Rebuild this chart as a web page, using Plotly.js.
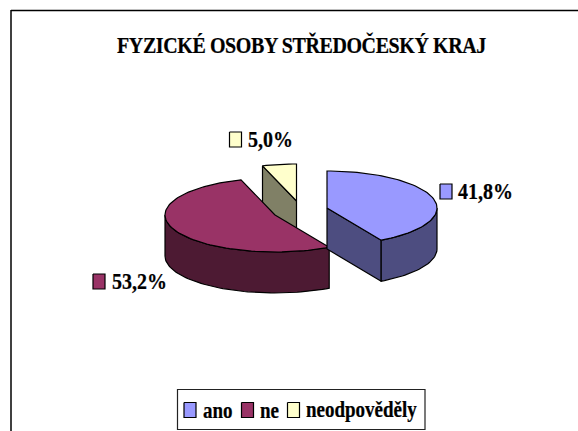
<!DOCTYPE html>
<html><head><meta charset="utf-8">
<script src="https://cdn.plot.ly/plotly-3.0.1.min.js"></script>
<style>html,body{margin:0;padding:0;background:#fff}#c{width:578px;height:431px}
.gtitle{letter-spacing:-0.4px;stroke:#000;stroke-width:.2px;transform-box:fill-box;transform-origin:center;transform:scaleY(1.15)}
.annotation-text{stroke:#000;stroke-width:.2px;transform-box:fill-box;transform-origin:center;transform:scaleY(1.18)}</style>
</head><body><div id="c"></div>
<script>
var chartTitle = 'FYZICKÉ OSOBY STŘEDOČESKÝ KRAJ';
var categories = ['ano', 'ne', 'neodpověděly'];
var values = [41.8, 53.2, 5.0];
var topColors = ['#9999FF', '#993366', '#FFFFCC'];
var sideColors = ['#4D4D80', '#4D1A33', '#808066'];
var centerX = [327, 275, 296.5];
var centerY = [208, 215, 201];
var labelKeyX = [446, 99, 235.5];
var labelKeyY = [191.5, 281.5, 139.5];
var labelTextX = [457, 111, 247];
var legendKeyX = [190, 247.5, 293.5];
var legendTextX = [202, 259, 305];
var drawOrder = [2, 1, 0];
var radiusX = 110, radiusY = 37, depth = 41;

function pt(i, deg, dz) {
  var a = deg * Math.PI / 180;
  return [centerX[i] + radiusX * Math.sin(a), centerY[i] - radiusY * Math.cos(a) + (dz || 0)];
}
function arc(i, a0, a1, dz) {
  var out = [], n = Math.max(2, Math.ceil(Math.abs(a1 - a0) / 2));
  for (var k = 0; k <= n; k++) out.push(pt(i, a0 + (a1 - a0) * k / n, dz));
  return out;
}
function poly(points, fill, name) {
  var pts = points.concat([points[0]]);
  return {type: 'scatter', mode: 'lines', name: name, showlegend: false, hoverinfo: 'skip',
    x: pts.map(function (p) { return p[0]; }), y: pts.map(function (p) { return p[1]; }),
    fill: 'toself', fillcolor: fill, line: {color: '#000', width: 1.2, shape: 'linear'}};
}
var total = values.reduce(function (a, b) { return a + b; }, 0);
var starts = [], acc = 0;
values.forEach(function (v) { starts.push(acc / total * 360); acc += v; });

var traces = [];
drawOrder.forEach(function (i) {
  var a0 = starts[i], a1 = a0 + values[i] / total * 360, c = [centerX[i], centerY[i]];
  var cBottom = [c[0], c[1] + depth];
  [[a0, a0 - 90], [a1, a1 + 90]].forEach(function (f) {
    if (-Math.cos(f[1] * Math.PI / 180) > 0.01) {
      traces.push(poly([c, pt(i, f[0]), pt(i, f[0], depth), cBottom], sideColors[i], categories[i]));
    }
  });
  var w0 = Math.max(a0, 90), w1 = Math.min(a1, 270);
  if (w1 > w0) {
    traces.push(poly(arc(i, w0, w1).concat(arc(i, w1, w0, depth)), sideColors[i], categories[i]));
  }
  traces.push(poly([c].concat(arc(i, a0, a1)), topColors[i], categories[i]));
});

function keyBox(x, y, i) {
  var hw = 6, hh = 7.5;
  traces.push(poly([[x - hw, y - hh], [x + hw, y - hh], [x + hw, y + hh], [x - hw, y + hh]], topColors[i], categories[i]));
}
categories.forEach(function (c, i) {
  keyBox(labelKeyX[i], labelKeyY[i], i);
  keyBox(legendKeyX[i], 410, i);
});

var annotations = [];
function note(text, x, y, size) {
  annotations.push({text: '<b>' + text + '</b>', x: x, y: y, xref: 'x', yref: 'y', xanchor: 'left',
    yanchor: 'middle', showarrow: false, borderpad: 0, font: {family: 'Liberation Serif', size: size, color: '#000'}});
}
values.forEach(function (v, i) {
  note(v.toFixed(1).replace('.', ',') + '%', labelTextX[i], labelKeyY[i] + 0.5, 20);
  note(categories[i], legendTextX[i], 410, 19);
});

var layout = {
  width: 578, height: 431, margin: {l: 0, r: 0, t: 0, b: 0},
  paper_bgcolor: '#fff', plot_bgcolor: '#fff', showlegend: false,
  title: {text: '<b>' + chartTitle + '</b>', x: 301.5 / 578, y: 1 - 45 / 431, xanchor: 'center', yanchor: 'middle',
    font: {family: 'Liberation Serif', size: 20, color: '#000'}},
  xaxis: {range: [0, 578], visible: false, fixedrange: true},
  yaxis: {range: [431, 0], visible: false, fixedrange: true},
  annotations: annotations,
  shapes: [
    {type: 'line', xref: 'x', yref: 'y', x0: 11, x1: 578, y0: 10.5, y1: 10.5, line: {color: '#000', width: 1.5}},
    {type: 'line', xref: 'x', yref: 'y', x0: 11, x1: 11, y0: 10, y1: 431, line: {color: '#000', width: 1.5}},
    {type: 'rect', layer: 'below', xref: 'x', yref: 'y', x0: 177.5, x1: 425, y0: 389.5, y1: 429.5, fillcolor: '#fff', line: {color: '#222', width: 1.2}}
  ]
};
Plotly.newPlot('c', traces, layout, {displayModeBar: false, staticPlot: true});
</script></body></html>
